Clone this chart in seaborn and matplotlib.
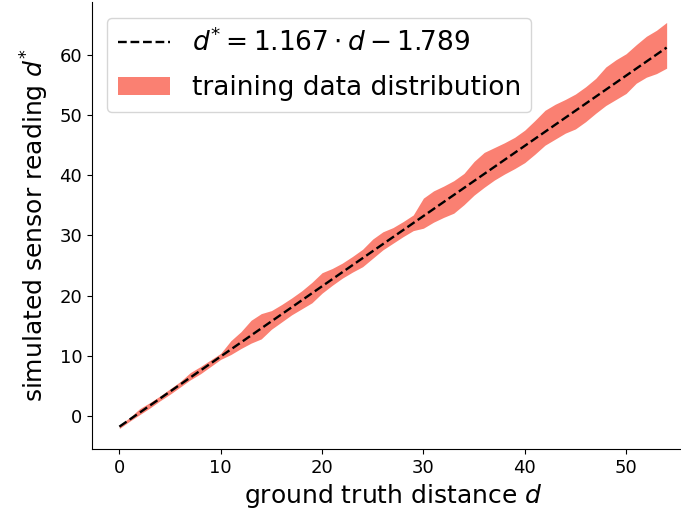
import numpy as np
import pandas as pd
import matplotlib
matplotlib.use("Agg")
import matplotlib.pyplot as plt
import seaborn as sns

# ground-truth distances
distance = list(range(0, 55))
# band of training data (min / max sensor reading per distance)
upper = [-1.5, -0.3, 1.2, 2.2, 3.3, 4.5, 5.7, 7.2, 8.2, 9.3,
         10.4, 12.5, 14.0, 15.9, 17.0, 17.5, 18.5, 19.6, 20.8, 22.2,
         23.8, 24.5, 25.4, 26.5, 27.7, 29.4, 30.6, 31.3, 32.3, 33.4,
         36.2, 37.4, 38.2, 39.1, 40.3, 42.3, 43.8, 44.6, 45.4, 46.3,
         47.5, 49.1, 50.8, 51.8, 52.6, 53.5, 54.7, 56.1, 58.0, 59.2,
         60.2, 61.7, 63.1, 64.1, 65.4]
lower = [-2.1, -0.9, 0.2, 1.3, 2.5, 3.6, 4.8, 6.0, 7.0, 8.2,
         9.4, 10.2, 11.2, 12.1, 12.8, 14.4, 15.6, 16.8, 17.8, 18.8,
         20.4, 21.7, 22.9, 23.9, 24.8, 26.2, 27.6, 28.7, 29.8, 30.8,
         31.2, 32.2, 33.0, 33.7, 35.1, 36.7, 38.0, 39.2, 40.2, 41.1,
         42.1, 43.5, 45.0, 46.0, 47.0, 47.7, 48.9, 50.3, 51.6, 52.6,
         53.6, 55.3, 56.3, 56.9, 57.8]
# fitted line from legend
slope = 1.167
intercept = -1.789
fit_x = [0, 54]
fit_y = [slope * v + intercept for v in fit_x]

fig = plt.figure(figsize=(6.81, 5.12), dpi=100)
ax = fig.add_axes([92 / 681, (512 - 449) / 512, (694 - 92) / 681, 447 / 512])

ax.fill_between(distance, lower, upper, color="salmon", linewidth=0,
                label="training data distribution")
df = pd.DataFrame({"d": fit_x, "ds": fit_y})
sns.lineplot(data=df, x="d", y="ds", ax=ax, color="black", linestyle="--",
             linewidth=1.7, label=r"$d^{*} = 1.167 \cdot d - 1.789$")

ax.set_xlim(-2.7, 56.7)
ax.set_ylim(-5.5, 68.8)
ax.set_xticks([0, 10, 20, 30, 40, 50])
ax.set_yticks([0, 10, 20, 30, 40, 50, 60])
ax.tick_params(labelsize=13)
ax.set_xlabel(r"ground truth distance $d$", fontsize=18)
ax.set_ylabel(r"simulated sensor reading $d^{*}$", fontsize=18, labelpad=6)
sns.despine(ax=ax)

handles, labels = ax.get_legend_handles_labels()
order = [labels.index(r"$d^{*} = 1.167 \cdot d - 1.789$"), labels.index("training data distribution")]
ax.legend([handles[i] for i in order], [labels[i] for i in order],
          loc="upper left", fontsize=19, bbox_to_anchor=(0.012, 0.982),
          borderaxespad=0.3, labelspacing=0.7)

fig.savefig("out.png", dpi=100)
